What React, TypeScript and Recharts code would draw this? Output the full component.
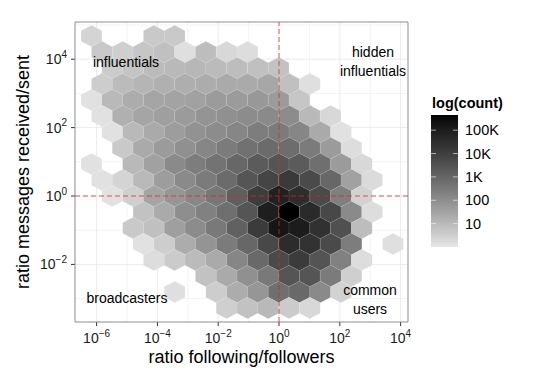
import React from 'react';
import { ScatterChart, Scatter, XAxis, YAxis, CartesianGrid, ReferenceLine, ReferenceArea } from 'recharts';

// ---------- data ----------
// hexbin grid (log10 units): centre x = BIN_X0 + BIN_HALF_DX * col, centre y = BIN_Y0 + BIN_DY * row
const BIN_X0 = 0.329;
const BIN_HALF_DX = 0.342;
const BIN_Y0 = -0.4678;
const BIN_DY = 0.4678;

type Cell = [number, number]; // [column, log10(count)]
const ROW_P11: Cell[] = [[-19, 0.4], [-13, 0.65], [-11, 0.65]];
const ROW_P10: Cell[] = [[-18, 0.65], [-16, 0.5], [-14, 0.7], [-12, 0.85], [-10, 0.15], [-8, 0.9], [-6, 0.3], [-4, 0.2]];
const ROW_P9: Cell[] = [[-17, 0.6], [-15, 0.75], [-13, 0.95], [-11, 1.0], [-9, 1.05], [-7, 0.95], [-5, 0.9], [-3, 0.85], [-1, 0.8]];
const ROW_P8: Cell[] = [[-18, 0.55], [-16, 0.95], [-14, 1.1], [-12, 1.2], [-10, 1.25], [-8, 1.3], [-6, 1.35], [-4, 1.35], [-2, 1.4], [0, 0.85], [2, 0.15]];
const ROW_P7: Cell[] = [[-19, 0.12], [-17, 1.0], [-15, 1.3], [-13, 1.45], [-11, 1.5], [-9, 1.55], [-7, 1.7], [-5, 1.7], [-3, 1.75], [-1, 1.7], [1, 0.7]];
const ROW_P6: Cell[] = [[-18, 0.1], [-16, 1.2], [-14, 1.45], [-12, 1.6], [-10, 1.7], [-8, 1.85], [-6, 1.95], [-4, 2.05], [-2, 2.1], [0, 2.05], [2, 1.0], [4, 0.3]];
const ROW_P5: Cell[] = [[-17, 0.12], [-15, 1.0], [-13, 1.35], [-11, 1.65], [-9, 1.9], [-7, 2.05], [-5, 2.2], [-3, 2.4], [-1, 2.45], [1, 2.2], [3, 1.35], [5, 0.12]];
const ROW_P4: Cell[] = [[-16, 0.65], [-14, 1.35], [-12, 1.7], [-10, 1.95], [-8, 2.2], [-6, 2.45], [-4, 2.7], [-2, 2.85], [0, 2.8], [2, 2.45], [4, 1.7], [6, 0.2]];
const ROW_P3: Cell[] = [[-19, 0.12], [-15, 1.0], [-13, 1.55], [-11, 2.1], [-9, 2.4], [-7, 2.65], [-5, 2.95], [-3, 3.25], [-1, 3.4], [1, 3.25], [3, 2.75], [5, 1.7], [7, 0.3]];
const ROW_P2: Cell[] = [[-18, 0.12], [-16, 0.4], [-14, 1.0], [-12, 1.65], [-10, 2.1], [-8, 2.45], [-6, 2.85], [-4, 3.4], [-2, 3.85], [0, 4.15], [2, 3.7], [4, 2.95], [6, 1.55], [8, 0.25]];
const ROW_P1: Cell[] = [[-17, 0.12], [-15, 0.5], [-13, 1.45], [-11, 1.8], [-9, 2.15], [-7, 2.55], [-5, 3.15], [-3, 4.05], [-1, 4.85], [1, 4.5], [3, 3.7], [5, 2.35], [7, 0.45]];
const ROW_0: Cell[] = [[-14, 0.8], [-12, 1.35], [-10, 2.0], [-8, 2.3], [-6, 2.75], [-4, 3.4], [-2, 4.95], [0, 5.65], [2, 4.6], [4, 3.75], [6, 2.1], [8, 0.2]];
const ROW_M1: Cell[] = [[-15, 0.65], [-13, 0.85], [-11, 1.6], [-9, 2.05], [-7, 2.5], [-5, 3.1], [-3, 4.1], [-1, 5.2], [1, 5.0], [3, 4.4], [5, 3.55], [7, 0.9]];
const ROW_M2: Cell[] = [[-14, 0.12], [-12, 0.55], [-10, 1.3], [-8, 1.85], [-6, 2.45], [-4, 2.95], [-2, 3.75], [0, 4.55], [2, 4.35], [4, 3.7], [6, 2.4], [10, 0.15]];
const ROW_M3: Cell[] = [[-13, 0.2], [-11, 0.6], [-9, 0.95], [-7, 1.35], [-5, 2.2], [-3, 2.9], [-1, 3.7], [1, 4.1], [3, 3.45], [5, 2.3], [7, 0.2]];
const ROW_M4: Cell[] = [[-8, 0.8], [-6, 1.35], [-4, 1.95], [-2, 2.5], [0, 3.4], [2, 3.4], [4, 2.45], [6, 0.5]];
const ROW_M5: Cell[] = [[-11, 0.15], [-7, 0.55], [-5, 1.3], [-3, 1.8], [-1, 2.75], [1, 2.9], [3, 2.1], [5, 0.45]];
const ROW_M6: Cell[] = [[-6, 0.5], [-4, 0.8], [-2, 1.0], [0, 0.6], [2, 0.3]];

const ROWS: [number, Cell[]][] = [
  [11, ROW_P11], [10, ROW_P10], [9, ROW_P9], [8, ROW_P8], [7, ROW_P7], [6, ROW_P6],
  [5, ROW_P5], [4, ROW_P4], [3, ROW_P3], [2, ROW_P2], [1, ROW_P1], [0, ROW_0],
  [-1, ROW_M1], [-2, ROW_M2], [-3, ROW_M3], [-4, ROW_M4], [-5, ROW_M5], [-6, ROW_M6],
];

const X_DOMAIN: [number, number] = [-6.711, 4.243];
const Y_DOMAIN: [number, number] = [-3.684, 5.088];
const X_TICKS = [-6, -4, -2, 0, 2, 4];
const X_MINOR = [-5, -3, -1, 1, 3];
const Y_TICKS = [-2, 0, 2, 4];
const Y_MINOR = [-3, -1, 1, 3, 5];
const COUNT_MIN = 0;
const COUNT_MAX = 5.65;
const LEGEND_BREAKS = [1, 2, 3, 4, 5];
const LEGEND_LABELS = ['10', '100', '1K', '10K', '100K'];
const GUIDE_X = 0;
const GUIDE_Y = 0;

const QUADRANT_LABELS = [
  { lines: ['influentials'], cx: 126, y: 67 },
  { lines: ['hidden', 'influentials'], cx: 373, y: 57 },
  { lines: ['broadcasters'], cx: 127, y: 303 },
  { lines: ['common', 'users'], cx: 370, y: 295 },
];

// ---------- layout ----------
const W = 550;
const H = 384;
const MARGIN = { top: 22, right: 142, bottom: 0, left: 0 };
const Y_AXIS_W = 75;
const X_AXIS_H = 62;
const PLOT_W = W - MARGIN.left - MARGIN.right - Y_AXIS_W;
const PLOT_H = H - MARGIN.top - MARGIN.bottom - X_AXIS_H;
const FONT = '"Liberation Sans", Arial, Helvetica, sans-serif';

const PX_PER_X = PLOT_W / (X_DOMAIN[1] - X_DOMAIN[0]);
const PX_PER_Y = PLOT_H / (Y_DOMAIN[1] - Y_DOMAIN[0]);
const HEX_HALF_W = BIN_HALF_DX * PX_PER_X;
const HEX_R = (BIN_DY * PX_PER_Y) / 1.5;

// ---------- colour (Lab lightness ramp grey90 -> black) ----------
const LOW_GREY = 230;
function greyToL(g: number) {
  const c = g / 255;
  const lin = c <= 0.04045 ? c / 12.92 : Math.pow((c + 0.055) / 1.055, 2.4);
  return lin > 0.008856 ? 116 * Math.cbrt(lin) - 16 : 903.3 * lin;
}
function lToGrey(L: number) {
  const Y = L > 8 ? Math.pow((L + 16) / 116, 3) : L / 903.3;
  const c = Y <= 0.0031308 ? 12.92 * Y : 1.055 * Math.pow(Y, 1 / 2.4) - 0.055;
  return Math.max(0, Math.min(255, Math.round(255 * c)));
}
const L_LOW = greyToL(LOW_GREY);
function fillFor(v: number) {
  const t = Math.max(0, Math.min(1, (v - COUNT_MIN) / (COUNT_MAX - COUNT_MIN)));
  const g = lToGrey(L_LOW * (1 - t));
  return `rgb(${g},${g},${g})`;
}

const hexData = ROWS.flatMap(([r, cells]) =>
  cells.map(([c, v]) => ({ lx: BIN_X0 + BIN_HALF_DX * c, ly: BIN_Y0 + BIN_DY * r, v }))
);

const HexShape = (props: any) => {
  const { cx, cy, payload } = props;
  if (cx == null || cy == null) return null;
  const w = HEX_HALF_W;
  const h = HEX_R;
  const pts = [
    [cx, cy - h], [cx + w, cy - h / 2], [cx + w, cy + h / 2],
    [cx, cy + h], [cx - w, cy + h / 2], [cx - w, cy - h / 2],
  ].map((p) => p.join(',')).join(' ');
  const f = fillFor(payload.v);
  return <polygon points={pts} fill={f} stroke="#ffffff" strokeOpacity={0.12} strokeWidth={0.6} />;
};

const expText = (n: number) => (n < 0 ? `\u2212${Math.abs(n)}` : `${n}`);

const XTick = (props: any) => {
  const { x, y, payload } = props;
  return (
    <text x={x} y={y + 15} textAnchor="middle" fontSize={14} fill="#1a1a1a" fontFamily={FONT}>
      <tspan>10</tspan>
      <tspan dy={-6.5} fontSize={10}>{expText(payload.value)}</tspan>
    </text>
  );
};

const YTick = (props: any) => {
  const { x, y, payload } = props;
  return (
    <text x={x - 2} y={y + 5} textAnchor="end" fontSize={14} fill="#1a1a1a" fontFamily={FONT}>
      <tspan>10</tspan>
      <tspan dy={-6.5} fontSize={10}>{expText(payload.value)}</tspan>
    </text>
  );
};

const mapX = (props: any, v: number) => {
  const s = props?.xAxis?.scale;
  if (typeof s === 'function') return s(v);
  const o = props.offset;
  return o.left + ((v - X_DOMAIN[0]) / (X_DOMAIN[1] - X_DOMAIN[0])) * o.width;
};
const mapY = (props: any, v: number) => {
  const s = props?.yAxis?.scale;
  if (typeof s === 'function') return s(v);
  const o = props.offset;
  return o.top + ((Y_DOMAIN[1] - v) / (Y_DOMAIN[1] - Y_DOMAIN[0])) * o.height;
};

const Legend = () => {
  const barX = 431;
  const barTop = 115;
  const barH = 132;
  const barW = 27;
  const pos = (v: number) => barTop + barH * (1 - (v - COUNT_MIN) / (COUNT_MAX - COUNT_MIN));
  const stops = Array.from({ length: 21 }, (_, i) => i / 20);
  return (
    <svg width={W} height={H} style={{ position: 'absolute', left: 0, top: 0, pointerEvents: 'none' }}>
      <defs>
        <linearGradient id="lg" x1="0" y1="1" x2="0" y2="0">
          {stops.map((s) => (
            <stop key={s} offset={s} stopColor={fillFor(COUNT_MIN + s * (COUNT_MAX - COUNT_MIN))} />
          ))}
        </linearGradient>
      </defs>
      <text x={432} y={108} fontSize={14.5} fontWeight="bold" fontFamily={FONT} fill="#000">log(count)</text>
      <rect x={barX} y={barTop} width={barW} height={barH} fill="url(#lg)" />
      {LEGEND_BREAKS.map((b, i) => (
        <g key={b}>
          <line x1={barX} x2={barX + 5} y1={pos(b)} y2={pos(b)} stroke="#fff" strokeOpacity={0.6} />
          <line x1={barX + barW - 5} x2={barX + barW} y1={pos(b)} y2={pos(b)} stroke="#fff" strokeOpacity={0.6} />
          <text x={465} y={pos(b) + 5} fontSize={14.5} fontFamily={FONT} fill="#000">{LEGEND_LABELS[i]}</text>
        </g>
      ))}
    </svg>
  );
};

export default function App() {
  return (
    <div style={{ position: 'absolute', left: 0, top: 0, width: W, height: H, background: '#fff' }}>
      <ScatterChart width={W} height={H} margin={MARGIN}>
        <CartesianGrid
          stroke="#f3f3f3"
          strokeWidth={1}
          verticalCoordinatesGenerator={(p: any) => X_MINOR.map((v) => mapX(p, v))}
          horizontalCoordinatesGenerator={(p: any) => Y_MINOR.map((v) => mapY(p, v))}
        />
        <CartesianGrid
          stroke="#e6e6e6"
          strokeWidth={0.8}
          verticalCoordinatesGenerator={(p: any) => X_TICKS.map((v) => mapX(p, v))}
          horizontalCoordinatesGenerator={(p: any) => Y_TICKS.map((v) => mapY(p, v))}
        />
        <XAxis
          type="number"
          dataKey="lx"
          domain={X_DOMAIN}
          allowDataOverflow
          ticks={X_TICKS}
          interval={0}
          height={X_AXIS_H}
          axisLine={false}
          tickSize={4}
          tickLine={{ stroke: '#333' }}
          tick={<XTick />}
          label={{ value: 'ratio following/followers', position: 'insideBottom', offset: 0, content: (p: any) => {
            const vb = p.viewBox;
            return (
              <text x={vb.x + vb.width / 2} y={363} textAnchor="middle" fontSize={18} fontFamily={FONT} fill="#000">
                ratio following/followers
              </text>
            );
          } }}
        />
        <YAxis
          type="number"
          dataKey="ly"
          domain={Y_DOMAIN}
          allowDataOverflow
          ticks={Y_TICKS}
          interval={0}
          width={Y_AXIS_W}
          axisLine={false}
          tickSize={4}
          tickLine={{ stroke: '#333' }}
          tick={<YTick />}
          label={{ value: 'ratio messages received/sent', content: (p: any) => {
            const vb = p.viewBox;
            const cy = vb.y + vb.height / 2;
            return (
              <text x={29} y={cy} transform={`rotate(-90 29 ${cy})`} textAnchor="middle" fontSize={18} fontFamily={FONT} fill="#000">
                ratio messages received/sent
              </text>
            );
          } }}
        />
        <Scatter data={hexData} shape={<HexShape />} isAnimationActive={false} />
      </ScatterChart>
      {/* overlay chart with the same scales: guide lines and panel border drawn above the hexes */}
      <div style={{ position: 'absolute', left: 0, top: 0, pointerEvents: 'none' }}>
        <ScatterChart width={W} height={H} margin={MARGIN}>
          <XAxis type="number" dataKey="lx" domain={X_DOMAIN} allowDataOverflow ticks={X_TICKS} height={X_AXIS_H} axisLine={false} tickLine={false} tick={false} />
          <YAxis type="number" dataKey="ly" domain={Y_DOMAIN} allowDataOverflow ticks={Y_TICKS} width={Y_AXIS_W} axisLine={false} tickLine={false} tick={false} />
          <ReferenceLine x={GUIDE_X} stroke="#e0202a" strokeOpacity={0.75} strokeDasharray="5 3" strokeWidth={1} />
          <ReferenceLine y={GUIDE_Y} stroke="#e0202a" strokeOpacity={0.75} strokeDasharray="5 3" strokeWidth={1} />
          <ReferenceArea x1={X_DOMAIN[0]} x2={X_DOMAIN[1]} y1={Y_DOMAIN[0]} y2={Y_DOMAIN[1]} fill="none" fillOpacity={0} stroke="#8c8c8c" strokeOpacity={1} strokeWidth={1} />
        </ScatterChart>
      </div>
      <svg width={W} height={H} style={{ position: 'absolute', left: 0, top: 0, pointerEvents: 'none' }}>
        {QUADRANT_LABELS.map((q, i) => (
          <text key={i} textAnchor="middle" fontSize={14} fontFamily={FONT} fill="#000">
            {q.lines.map((ln, j) => (
              <tspan key={j} x={q.cx} y={q.y + j * 19}>{ln}</tspan>
            ))}
          </text>
        ))}
      </svg>
      <Legend />
    </div>
  );
}
